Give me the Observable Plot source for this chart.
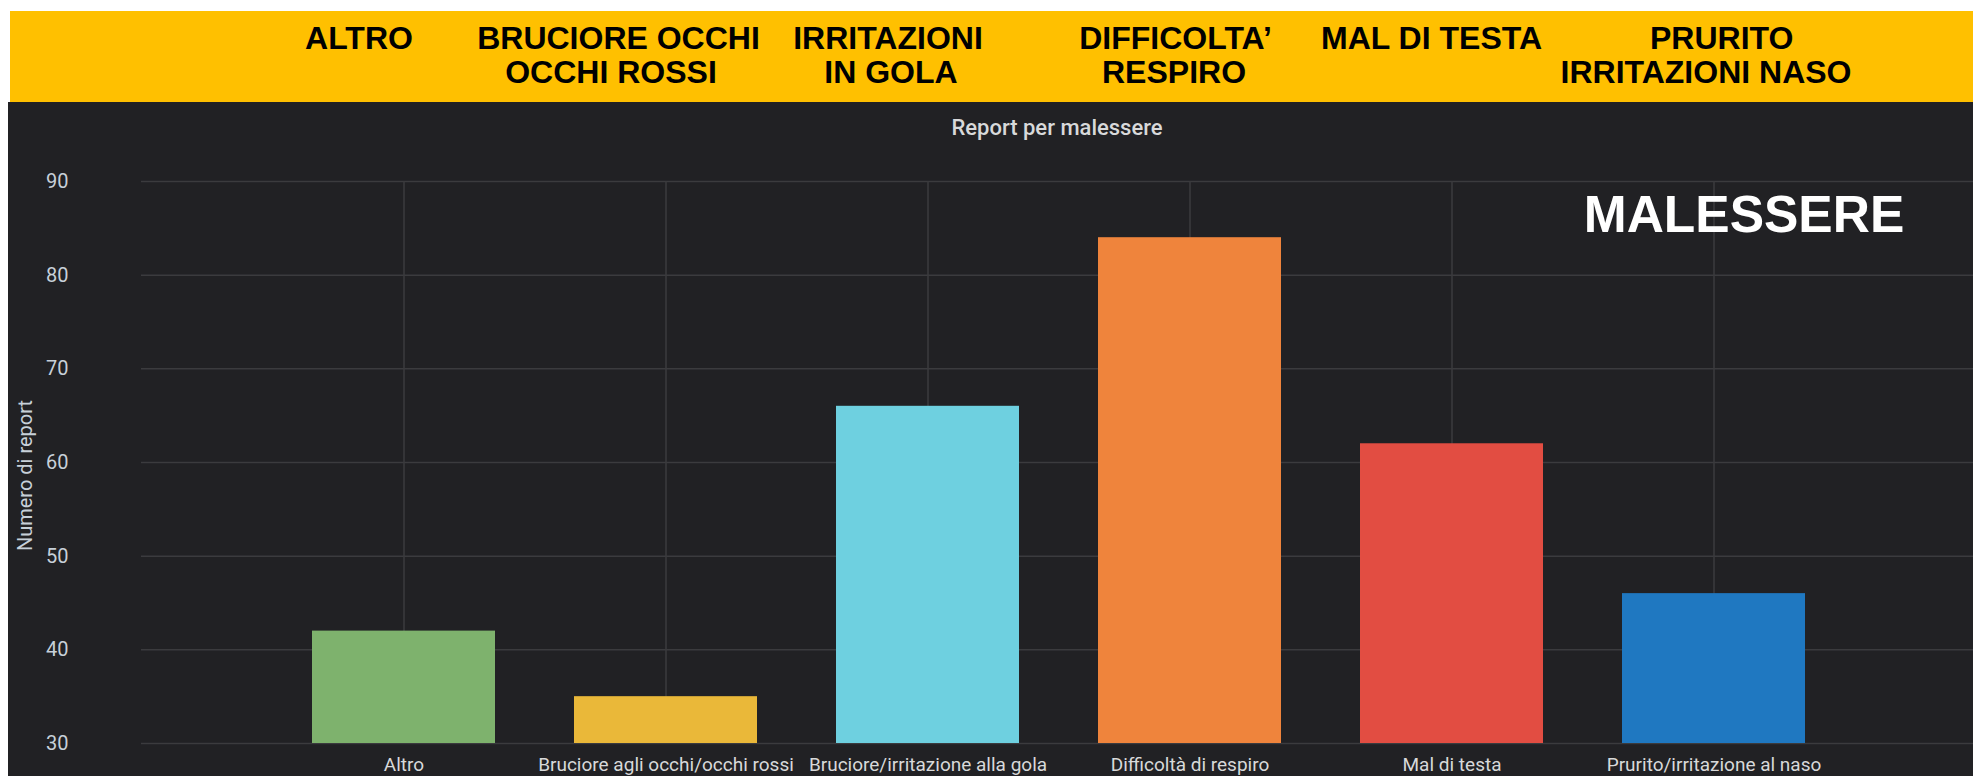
<!DOCTYPE html>
<html>
<head>
<meta charset="utf-8">
<script src="https://cdn.jsdelivr.net/npm/d3@7"></script>
<script src="https://cdn.jsdelivr.net/npm/@observablehq/plot@0.6"></script>
<style>
  html, body { margin: 0; padding: 0; background: #ffffff; width: 1973px; height: 776px; overflow: hidden; position: relative; }
  #banner { position: absolute; left: 10px; top: 11px; width: 1963px; height: 91px; background: #FFC000; }
  #panel { position: absolute; left: 8px; top: 102px; width: 1965px; height: 674px; background: #212124; }
  #chart { position: absolute; left: 0; top: 102px; width: 1973px; height: 674px; }
  .bl { position: absolute; font: bold 32px "Liberation Sans", Arial, sans-serif; color: #000; line-height: 34px; white-space: nowrap; transform: translateX(-50%); }
  #title { position: absolute; top: 116.5px; left: 1057px; transform: translateX(-50%); font: 500 22px Roboto, sans-serif; line-height: 22px; color: #d8d9da; white-space: nowrap; }
  #big { position: absolute; top: 188.5px; left: 1744px; transform: translateX(-50%); font: bold 51.5px "Liberation Sans", Arial, sans-serif; line-height: 51.5px; color: #ffffff; white-space: nowrap; }
</style>
</head>
<body>
<div id="banner"></div>
<div id="panel"></div>
<div id="chart"></div>
<div id="title"></div>
<div id="big"></div>
<script>
// ---- data ----
const categories = [
  "Altro",
  "Bruciore agli occhi/occhi rossi",
  "Bruciore/irritazione alla gola",
  "Difficoltà di respiro",
  "Mal di testa",
  "Prurito/irritazione al naso"
];
const reports = [42, 35, 66, 84, 62, 46];
const barColors = ["#7EB26D", "#EAB839", "#6ED0E0", "#EF843C", "#E24D42", "#1F78C1"];
const yTicks = [30, 40, 50, 60, 70, 80, 90];
const bannerLabels = [
  ["ALTRO"],
  ["BRUCIORE OCCHI", "OCCHI ROSSI"],
  ["IRRITAZIONI", "IN GOLA"],
  ["DIFFICOLTA\u2019", "RESPIRO"],
  ["MAL DI TESTA"],
  ["PRURITO", "IRRITAZIONI NASO"]
];
const chartTitle = "Report per malessere";
const yLabel = "Numero di report";
const overlayLabel = "MALESSERE";

// ---- layout (banner line centres, page px) ----
const bannerCenters = [[359], [618.5, 611], [888, 891], [1175.5, 1174], [1431.5], [1721.7, 1706]];

const data = categories.map((c, i) => ({categoria: c, report: reports[i]}));

const chart = Plot.plot({
  width: 1973,
  height: 674,
  marginLeft: 141,
  marginRight: 0,
  marginTop: 79,
  marginBottom: 33,
  style: {background: "transparent", color: "#c7d0d9", fontFamily: "Roboto, sans-serif", fontSize: "20px"},
  x: {domain: categories, range: [271, 1846.6], paddingInner: 0.3, paddingOuter: 0.15, label: null},
  y: {domain: [30, 90], label: null},
  color: {domain: categories, range: barColors},
  marks: [
    Plot.ruleY(yTicks, {y: d => d, stroke: "#3b3b3e", strokeWidth: 1.5}),
    Plot.ruleX(categories, {x: d => d, stroke: "#3b3b3e", strokeWidth: 1.5}),
    Plot.barY(data, {x: "categoria", y: "report", fill: "categoria", clip: true}),
    Plot.axisY(yTicks, {tickSize: 0, tickPadding: 73, fontSize: 20, fill: "#c7d0d9", label: null}),
    Plot.axisX({tickSize: 0, tickPadding: 14, fontSize: 19, fill: "#d8d9da", label: null}),
    Plot.text([yLabel], {text: d => d, frameAnchor: "left", textAnchor: "middle", rotate: -90, dx: -116, dy: 13, fontSize: 20, fill: "#c7d0d9"})
  ]
});
document.getElementById("chart").appendChild(chart);

// banner labels
bannerLabels.forEach((lines, i) => {
  lines.forEach((t, j) => {
    const d = document.createElement("div");
    d.className = "bl";
    d.textContent = t;
    d.style.left = bannerCenters[i][j] + "px";
    d.style.top = (21.2 + 34 * j) + "px";
    document.body.appendChild(d);
  });
});
document.getElementById("title").textContent = chartTitle;
document.getElementById("big").textContent = overlayLabel;
</script>
</body>
</html>
